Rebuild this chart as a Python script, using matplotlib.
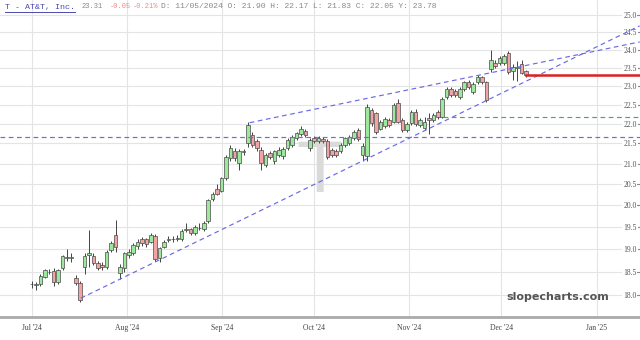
import numpy as np
import pandas as pd
import matplotlib
matplotlib.use('Agg')
import matplotlib.pyplot as plt
import matplotlib.dates as mdates
from matplotlib.lines import Line2D

# trading days shown (Jul 1 - Dec 9, 2024)
holidays = ['2024-07-04', '2024-09-02', '2024-11-28']
dates = pd.bdate_range('2024-07-01', '2024-12-09')
dates = dates[~dates.isin(pd.to_datetime(holidays))]

opens = [18.24, 18.22, 18.24, 18.39, 18.50, 18.51, 18.27, 18.57, 18.80, 18.79,
         18.37, 18.26, 18.60, 18.86, 18.84, 18.68, 18.64, 18.60, 18.97, 19.31,
         18.47, 18.57, 18.86, 18.91, 19.06, 19.21, 19.21, 19.16, 19.29, 18.79,
         19.05, 19.20, 19.21, 19.22, 19.22, 19.43, 19.44, 19.35, 19.46, 19.44,
         19.62, 20.15, 20.37, 20.34, 20.64, 21.13, 21.30, 21.01, 21.28, 21.50,
         21.71, 21.55, 21.34, 20.97, 21.27, 21.05, 21.22, 21.18, 21.38, 21.46,
         21.63, 21.74, 21.82, 21.38, 21.63, 21.55, 21.61, 21.55, 21.34, 21.32,
         21.32, 21.46, 21.50, 21.63, 21.84, 21.20, 21.18, 22.36, 22.27, 21.88,
         21.94, 22.10, 22.06, 22.54, 22.10, 21.84, 22.01, 22.32, 21.98, 21.90,
         22.16, 22.10, 22.31, 22.19, 22.70, 22.91, 22.86, 22.70, 22.92, 23.10,
         22.84, 23.10, 23.24, 23.10, 23.47, 23.64, 23.62, 23.63, 23.90, 23.40,
         23.50, 23.60, 23.41]
highs = [18.30, 18.28, 18.44, 18.56, 18.56, 18.58, 18.56, 18.87, 18.99, 18.90,
         18.42, 18.30, 18.90, 19.42, 18.90, 18.73, 18.70, 18.97, 19.18, 19.65,
         18.66, 18.93, 18.99, 19.14, 19.22, 19.27, 19.25, 19.36, 19.33, 19.05,
         19.20, 19.29, 19.28, 19.30, 19.45, 19.58, 19.48, 19.54, 19.58, 19.62,
         20.15, 20.31, 20.50, 20.68, 21.22, 21.46, 21.38, 21.36, 21.36, 22.05,
         21.80, 21.62, 21.40, 21.27, 21.32, 21.34, 21.40, 21.42, 21.65, 21.72,
         21.80, 21.95, 21.86, 21.63, 21.68, 21.68, 21.66, 21.60, 21.38, 21.36,
         21.50, 21.67, 21.72, 21.84, 21.90, 21.50, 22.53, 22.42, 22.32, 22.10,
         22.18, 22.15, 22.55, 22.66, 22.14, 22.04, 22.36, 22.38, 22.14, 22.17,
         22.28, 22.28, 22.36, 22.70, 22.98, 22.96, 22.92, 22.97, 23.14, 23.16,
         23.10, 23.30, 23.28, 23.14, 23.99, 23.70, 23.82, 23.87, 23.95, 23.60,
         23.67, 23.70, 23.44]
lows = [18.14, 18.10, 18.18, 18.36, 18.44, 18.20, 18.24, 18.53, 18.73, 18.70,
        18.22, 17.86, 18.44, 18.60, 18.64, 18.53, 18.53, 18.55, 18.93, 18.93,
        18.33, 18.50, 18.80, 18.86, 18.99, 19.06, 19.04, 19.12, 18.72, 18.70,
        19.01, 19.15, 19.16, 19.18, 19.18, 19.37, 19.31, 19.31, 19.42, 19.40,
        19.58, 20.10, 20.24, 20.30, 20.60, 21.05, 21.05, 20.85, 21.20, 21.42,
        21.40, 21.30, 20.85, 20.92, 21.12, 20.99, 21.17, 21.12, 21.33, 21.40,
        21.58, 21.70, 21.66, 21.30, 21.50, 21.50, 21.50, 21.12, 21.17, 21.15,
        21.27, 21.42, 21.46, 21.59, 21.55, 21.05, 21.07, 21.95, 21.74, 21.84,
        21.90, 21.92, 22.01, 22.01, 21.80, 21.78, 21.97, 21.95, 21.93, 21.83,
        21.74, 22.05, 22.12, 22.14, 22.65, 22.70, 22.70, 22.65, 22.87, 22.92,
        22.78, 23.05, 23.05, 22.58, 23.38, 23.48, 23.57, 23.58, 23.33, 23.16,
        23.14, 23.32, 23.25]
closes = [18.23, 18.23, 18.40, 18.53, 18.48, 18.27, 18.53, 18.84, 18.82, 18.81,
          18.25, 17.89, 18.84, 18.90, 18.68, 18.57, 18.60, 18.93, 19.14, 19.05,
          18.60, 18.90, 18.93, 19.09, 19.16, 19.12, 19.11, 19.31, 18.77, 19.01,
          19.16, 19.22, 19.22, 19.25, 19.41, 19.45, 19.35, 19.50, 19.48, 19.58,
          20.12, 20.26, 20.27, 20.64, 21.17, 21.38, 21.13, 21.30, 21.30, 21.97,
          21.46, 21.38, 21.01, 21.22, 21.17, 21.30, 21.34, 21.36, 21.59, 21.67,
          21.77, 21.86, 21.71, 21.59, 21.55, 21.63, 21.55, 21.16, 21.22, 21.20,
          21.46, 21.63, 21.67, 21.79, 21.61, 21.44, 22.44, 22.01, 21.79, 22.06,
          22.12, 21.97, 22.49, 22.06, 21.84, 22.00, 22.32, 22.00, 22.10, 22.05,
          22.10, 22.23, 22.18, 22.66, 22.92, 22.76, 22.76, 22.92, 23.10, 22.97,
          23.06, 23.24, 23.10, 22.63, 23.71, 23.55, 23.77, 23.82, 23.38, 23.53,
          23.52, 23.36, 23.31]

# drawn trend lines (date, price)
upper_dates = ['2024-09-10', '2025-01-15']
upper_prices = [22.03, 24.22]
support_dates = ['2024-07-17', '2025-01-15']
support_prices = [17.93, 24.68]
blue_level = 21.66
green_level = 22.19
green_start = '2024-11-12'

yticks = [18.0, 18.5, 19.0, 19.5, 20.0, 20.5, 21.0, 21.5, 22.0, 22.5, 23.0, 23.5, 24.0, 24.5, 25.0]

# header pieces: text, colour, left pixel, size
header = [('T - AT&T, Inc.', '#4b4bb0', 5, 6),
          ('23.31', '#888888', 82, 5),
          ('-0.05', '#f08a8a', 110, 5),
          ('-0.21%', '#f08a8a', 133, 5),
          ('D: 11/05/2024 O: 21.90 H: 22.17 L: 21.83 C: 22.05 Y: 23.78', '#888888', 161, 5.8)]

fig = plt.figure(figsize=(6.4, 3.4), dpi=100)
ax = fig.add_axes([0, 23 / 340, 1, 317 / 340])
ax.set_yscale('log')

d0 = mdates.date2num(pd.Timestamp('2024-07-01'))
xmin, xmax = d0 - 10.3, d0 + 198.1
ax.set_xlim(xmin, xmax)
ax.set_ylim(17.54, 25.44)

# candles evenly spaced between first and last trading day
xs = np.linspace(mdates.date2num(dates[0]), mdates.date2num(dates[-1]), len(dates))
o = np.array(opens); h = np.array(highs); l = np.array(lows); c = np.array(closes)
up = c >= o
ax.vlines(xs, l, h, color='#444444', lw=0.7, zorder=3)
ax.bar(xs[up], c[up] - o[up], bottom=o[up], width=1.15, color='#9ee89e',
       edgecolor='#4a4a4a', linewidth=0.5, zorder=4)
ax.bar(xs[~up], o[~up] - c[~up], bottom=c[~up], width=1.15, color='#f2a3a3',
       edgecolor='#4a4a4a', linewidth=0.5, zorder=4)

# ticker watermark
ax.text(mdates.date2num(pd.Timestamp('2024-10-01')) + 1.6, 21.62, 'T', fontsize=50,
        color='#dadada', ha='center', va='top', zorder=1, family='DejaVu Sans')

# trend lines
dash = (0, (4, 3))
ax.plot(mdates.datestr2num(upper_dates), upper_prices, color='#6a6ae6', lw=0.85, ls=dash, zorder=5)
ax.plot(mdates.datestr2num(support_dates), support_prices, color='#6a6ae6', lw=0.85, ls=dash, zorder=5)
ax.axhline(blue_level, color='#6a6ae6', lw=0.85, ls=dash, zorder=5)
ax.plot([mdates.datestr2num(green_start), xmax], [green_level, green_level],
        color='#5e9e5e', lw=0.85, ls=dash, zorder=5)
ax.plot([xs[-1], xmax], [closes[-1], closes[-1]], color='#dd2020', lw=1.8, zorder=6)

# axes styling
ax.set_axisbelow(True)
ax.grid(True, color='#e4e4e4', lw=0.8)
ax.xaxis.set_major_locator(mdates.MonthLocator())
ax.xaxis.set_major_formatter(mdates.DateFormatter("%b '%y"))
ax.yaxis.set_major_locator(plt.FixedLocator(yticks))
ax.yaxis.set_minor_locator(plt.NullLocator())
ax.yaxis.set_major_formatter(plt.FormatStrFormatter('%.1f'))
ax.yaxis.tick_right()
ax.tick_params(axis='y', direction='in', length=3, pad=-12, labelsize=5.5,
               labelcolor='#555555', color='#888888')
ax.tick_params(axis='x', length=0, pad=5, labelsize=5.5, labelcolor='#444444')
for lab in ax.get_xticklabels() + ax.get_yticklabels():
    lab.set_family('Liberation Serif')
for lab in ax.get_yticklabels():
    lab.set_bbox(dict(fc='white', ec='none', pad=0.6))
for s in ['top', 'left', 'right']:
    ax.spines[s].set_visible(False)
ax.spines['bottom'].set_color('#aaaaaa')
ax.spines['bottom'].set_linewidth(2)

# site watermark
fig.text(558 / 640, 1 - 297 / 340, 'slopecharts.com', fontsize=8, fontweight='bold',
         color='#555555', ha='center', va='center', family='DejaVu Sans')

# header
hy = 1 - 7 / 340
parts = []
for txt, col, px, size in header:
    parts.append(fig.text(px / 640, hy, txt, fontsize=size, color=col,
                          family='Liberation Mono', va='center'))
fig.canvas.draw()
bb = parts[0].get_window_extent().transformed(fig.transFigure.inverted())
fig.add_artist(Line2D([bb.x0, bb.x1], [bb.y0 - 0.003, bb.y0 - 0.003],
                      transform=fig.transFigure, color='#4b4bb0', lw=0.7))

fig.savefig('out.png', dpi=100)
